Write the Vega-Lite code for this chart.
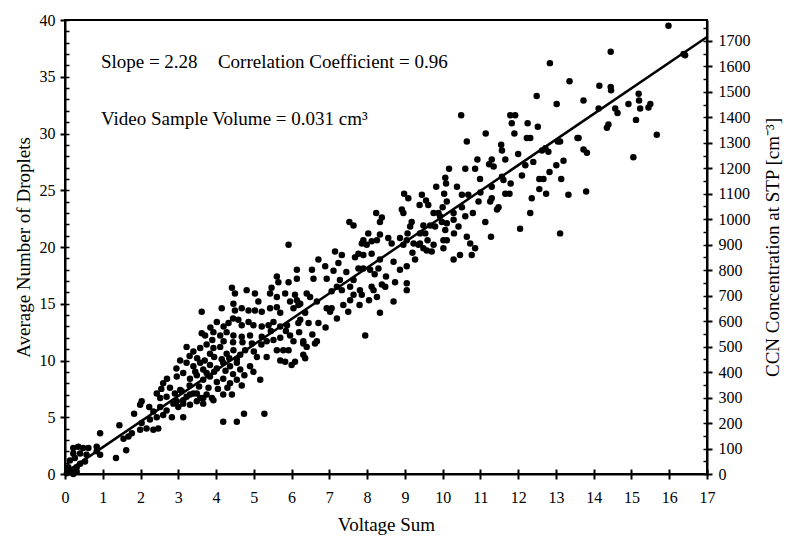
{
  "$schema": "https://vega.github.io/schema/vega-lite/v6.json",
  "width": 642,
  "height": 454,
  "autosize": "none",
  "padding": {"left": 65, "top": 20, "right": 85, "bottom": 66},
  "background": "white",
  "config": {
    "view": {"stroke": "black", "strokeWidth": 2},
    "font": "Liberation Serif",
    "axis": {"grid": false, "domainColor": "black", "domainWidth": 2, "tickColor": "black", "tickWidth": 2, "labelColor": "black", "titleColor": "black", "labelFont": "Liberation Serif", "titleFont": "Liberation Serif", "labelFontSize": 16, "titleFontSize": 19, "titleFontWeight": "normal"}
  },
  "datasets": {
    "pts": [
      {"v":15.98,"d":39.5},{"v":14.45,"d":37.2},{"v":13.36,"d":34.6},{"v":14.15,"d":34.2},{"v":14.45,"d":34.1},{"v":14.46,"d":33.8},{"v":13.73,"d":32.9},{"v":15.19,"d":33.5},{"v":15.2,"d":32.9},{"v":14.92,"d":32.6},{"v":15.23,"d":32.2},{"v":15.45,"d":32.3},{"v":15.5,"d":32.6},{"v":14.13,"d":32.2},{"v":14.57,"d":32.2},{"v":14.63,"d":31.8},{"v":16.42,"d":36.9},{"v":16.38,"d":37.0},{"v":15.12,"d":31.2},{"v":14.39,"d":30.8},{"v":14.35,"d":30.5},{"v":15.67,"d":29.9},{"v":13.6,"d":29.6},{"v":13.73,"d":28.6},{"v":13.82,"d":28.3},{"v":15.05,"d":27.9},{"v":13.11,"d":29.3},{"v":13.2,"d":27.6},{"v":13.14,"d":26.0},{"v":13.33,"d":24.6},{"v":13.8,"d":24.9},{"v":13.11,"d":21.2},
      {"v":12.84,"d":36.2},{"v":12.49,"d":33.3},{"v":13.02,"d":32.6},{"v":10.49,"d":31.6},{"v":11.79,"d":31.6},{"v":11.92,"d":31.6},{"v":11.83,"d":30.9},{"v":12.25,"d":30.9},{"v":12.52,"d":30.6},{"v":11.14,"d":30.0},{"v":11.9,"d":30.0},{"v":12.23,"d":29.6},{"v":12.32,"d":29.6},{"v":13.57,"d":29.6},{"v":10.64,"d":29.3},{"v":11.55,"d":29.0},{"v":11.57,"d":28.5},{"v":13.05,"d":29.3},{"v":12.72,"d":28.7},{"v":12.8,"d":28.4},{"v":12.63,"d":28.5},{"v":10.92,"d":27.7},{"v":10.86,"d":26.9},{"v":10.6,"d":26.9},{"v":10.17,"d":26.9},{"v":11.3,"d":27.7},{"v":11.35,"d":27.1},{"v":11.23,"d":27.3},{"v":11.66,"d":27.7},{"v":13.01,"d":27.2},{"v":12.19,"d":27.2},{"v":12.83,"d":26.6},{"v":10.07,"d":26.1},{"v":10.09,"d":25.6},{"v":10.99,"d":26.0},{"v":11.57,"d":26.2},{"v":11.61,"d":25.9},{"v":12.56,"d":26.0},{"v":12.67,"d":26.0},{"v":9.83,"d":25.3},{"v":10.38,"d":25.3},{"v":11.3,"d":25.3},{"v":12.56,"d":25.1},{"v":12.74,"d":24.7},{"v":9.45,"d":24.6},{"v":9.56,"d":24.1},{"v":9.62,"d":23.7},{"v":10.04,"d":24.7},{"v":10.51,"d":24.6},{"v":10.68,"d":24.6},{"v":11.66,"d":24.7},{"v":11.77,"d":24.7},{"v":12.36,"d":24.3},{"v":10.11,"d":24.0},{"v":10.95,"d":24.0},{"v":11.26,"d":24.0},{"v":11.3,"d":24.3},{"v":10.51,"d":23.5},{"v":11.48,"d":23.5},{"v":11.44,"d":23.3},{"v":9.76,"d":23.0},{"v":9.89,"d":23.0},{"v":10.29,"d":23.0},{"v":12.32,"d":23.0},{"v":10.6,"d":22.7},{"v":9.49,"d":21.9},{"v":9.67,"d":21.9},{"v":9.8,"d":21.8},{"v":9.98,"d":22.2},{"v":10.11,"d":22.1},{"v":10.42,"d":21.8},{"v":11.13,"d":22.2},{"v":12.05,"d":21.6},{"v":9.4,"d":21.2},{"v":9.54,"d":21.2},{"v":10.07,"d":21.5},{"v":10.64,"d":20.9},{"v":11.28,"d":20.9},{"v":10.02,"d":20.6},{"v":10.11,"d":20.6},{"v":9.4,"d":20.3},{"v":9.58,"d":19.7},{"v":9.71,"d":19.6},{"v":9.76,"d":20.2},{"v":10.73,"d":20.3},{"v":10.86,"d":19.9},{"v":10.02,"d":19.9},{"v":10.29,"d":18.9},{"v":10.46,"d":19.3},{"v":10.77,"d":19.3},
      {"v":8.98,"d":24.7},{"v":9.09,"d":24.3},{"v":9.39,"d":23.7},{"v":8.92,"d":23.3},{"v":8.96,"d":23.0},{"v":8.24,"d":23.0},{"v":8.39,"d":22.6},{"v":8.34,"d":22.2},{"v":7.53,"d":22.2},{"v":7.64,"d":21.9},{"v":9.18,"d":22.2},{"v":9.14,"d":21.8},{"v":9.07,"d":21.2},{"v":9.93,"d":22.7},{"v":10.29,"d":22.4},{"v":8.03,"d":21.2},{"v":7.9,"d":20.6},{"v":7.86,"d":20.3},{"v":7.99,"d":20.2},{"v":8.12,"d":20.5},{"v":8.26,"d":20.6},{"v":8.34,"d":21.1},{"v":8.56,"d":20.8},{"v":8.65,"d":20.3},{"v":8.87,"d":20.8},{"v":9.05,"d":20.6},{"v":8.96,"d":20.2},{"v":9.23,"d":20.3},{"v":9.36,"d":20.2},{"v":9.49,"d":19.9},
      {"v":7.15,"d":19.6},{"v":7.33,"d":19.3},{"v":7.77,"d":19.4},{"v":7.68,"d":19.1},{"v":7.9,"d":19.3},{"v":8.12,"d":19.4},{"v":6.71,"d":18.9},{"v":6.89,"d":18.3},{"v":7.24,"d":18.6},{"v":6.54,"d":18.0},{"v":6.58,"d":17.2},{"v":6.93,"d":17.2},{"v":7.28,"d":17.1},{"v":7.64,"d":17.1},{"v":7.77,"d":18.1},{"v":7.9,"d":18.1},{"v":8.08,"d":18.0},{"v":8.34,"d":18.9},{"v":8.3,"d":18.1},{"v":8.7,"d":18.7},{"v":8.87,"d":18.0},{"v":9.05,"d":18.3},{"v":9.27,"d":18.9},{"v":7.2,"d":16.5},{"v":7.33,"d":16.2},{"v":7.55,"d":16.5},{"v":7.81,"d":16.2},{"v":7.86,"d":15.8},{"v":8.12,"d":16.5},{"v":8.17,"d":16.2},{"v":8.39,"d":16.7},{"v":8.48,"d":16.5},{"v":8.74,"d":16.9},{"v":9.05,"d":16.8},{"v":9.05,"d":16.2},{"v":6.4,"d":15.9},{"v":6.49,"d":15.6},{"v":6.23,"d":15.0},{"v":7.06,"d":16.1},{"v":7.06,"d":14.6},{"v":7.02,"d":14.3},{"v":7.37,"d":14.9},{"v":7.64,"d":15.8},{"v":7.55,"d":15.3},{"v":8.26,"d":15.6},{"v":8.7,"d":15.2},{"v":8.34,"d":14.2},{"v":6.36,"d":14.2},{"v":6.23,"d":13.6},{"v":6.45,"d":13.3},{"v":6.71,"d":13.3},{"v":7.95,"d":12.2},{"v":6.31,"d":11.5},{"v":6.62,"d":11.5},
      {"v":7.11,"d":17.9},{"v":6.14,"d":18.0},{"v":6.14,"d":17.2},{"v":5.92,"d":20.2},{"v":5.61,"d":17.4},{"v":5.65,"d":16.9},{"v":5.92,"d":16.9},{"v":4.42,"d":16.4},{"v":4.5,"d":15.9},{"v":4.81,"d":16.2},{"v":5.03,"d":15.9},{"v":5.12,"d":15.2},{"v":5.47,"d":16.4},{"v":5.43,"d":15.9},{"v":5.61,"d":15.6},{"v":5.83,"d":15.9},{"v":6.09,"d":15.8},{"v":6.67,"d":15.2},{"v":5.96,"d":15.2},{"v":6.14,"d":15.3},{"v":6.18,"d":14.9},{"v":6.05,"d":14.6},{"v":4.15,"d":14.6},{"v":3.62,"d":14.3},{"v":4.46,"d":15.0},{"v":4.5,"d":14.4},{"v":4.68,"d":14.6},{"v":4.86,"d":14.4},{"v":5.03,"d":14.4},{"v":5.21,"d":14.3},{"v":5.43,"d":14.6},{"v":5.61,"d":14.7},{"v":5.7,"d":14.2},{"v":6.93,"d":14.6},
      {"v":4.02,"d":13.4},{"v":4.33,"d":13.3},{"v":4.59,"d":13.6},{"v":4.68,"d":13.1},{"v":4.86,"d":13.4},{"v":4.99,"d":13.1},{"v":5.21,"d":13.0},{"v":5.39,"d":13.1},{"v":5.52,"d":13.4},{"v":5.7,"d":13.0},{"v":5.88,"d":13.1},{"v":6.18,"d":13.3},
      {"v":3.62,"d":12.4},{"v":3.71,"d":12.2},{"v":3.93,"d":12.5},{"v":4.11,"d":12.2},{"v":4.28,"d":12.5},{"v":4.46,"d":12.2},{"v":4.68,"d":12.1},{"v":4.9,"d":12.2},{"v":5.21,"d":12.1},{"v":5.34,"d":11.7},{"v":5.52,"d":11.8},{"v":5.7,"d":12.0},{"v":5.96,"d":12.2},{"v":6.05,"d":11.7},{"v":6.31,"d":11.7},{"v":6.4,"d":11.2},{"v":6.67,"d":11.7},{"v":6.31,"d":10.5},{"v":6.36,"d":10.2},{"v":5.61,"d":10.9},{"v":5.78,"d":10.9},{"v":5.92,"d":10.9},{"v":5.7,"d":10.0},{"v":5.83,"d":9.9},{"v":6.0,"d":9.6},{"v":6.09,"d":9.9},
      {"v":3.22,"d":11.2},{"v":3.4,"d":10.8},{"v":3.58,"d":11.1},{"v":3.75,"d":11.4},{"v":3.84,"d":10.6},{"v":3.93,"d":11.1},{"v":4.11,"d":11.2},{"v":4.28,"d":10.6},{"v":4.46,"d":10.9},{"v":4.64,"d":10.5},{"v":4.77,"d":10.9},{"v":5.08,"d":10.3},{"v":5.34,"d":10.3},
      {"v":3.05,"d":10.0},{"v":3.22,"d":9.8},{"v":3.4,"d":9.5},{"v":3.58,"d":9.8},{"v":3.66,"d":9.2},{"v":3.84,"d":9.6},{"v":4.02,"d":9.3},{"v":4.19,"d":9.8},{"v":4.37,"d":9.5},{"v":4.55,"d":9.8},{"v":4.64,"d":9.2},{"v":4.9,"d":9.5},{"v":4.99,"d":9.0},{"v":5.17,"d":8.3},
      {"v":2.96,"d":8.6},{"v":3.13,"d":8.9},{"v":3.31,"d":8.4},{"v":3.49,"d":8.7},{"v":3.66,"d":8.3},{"v":3.84,"d":8.6},{"v":4.02,"d":8.1},{"v":4.19,"d":8.4},{"v":4.37,"d":8.0},{"v":4.55,"d":8.3},{"v":4.68,"d":7.8},
      {"v":2.78,"d":7.6},{"v":2.91,"d":7.1},{"v":3.09,"d":7.3},{"v":3.22,"d":6.8},{"v":3.4,"d":7.1},{"v":3.58,"d":6.7},{"v":3.75,"d":7.0},{"v":3.93,"d":6.5},{"v":4.19,"d":7.0},{"v":4.42,"d":7.0},
      {"v":2.87,"d":6.2},{"v":3.0,"d":5.9},{"v":3.13,"d":6.2},{"v":3.31,"d":6.1},{"v":3.49,"d":6.4},{"v":3.66,"d":6.2},{"v":3.13,"d":5.0},{"v":4.19,"d":4.6},{"v":4.55,"d":4.6},{"v":4.74,"d":5.3},{"v":5.28,"d":5.3},
      {"v":2.6,"d":8.0},{"v":2.43,"d":7.1},{"v":2.52,"d":6.7},{"v":2.69,"d":6.8},{"v":3.05,"d":7.4},{"v":2.96,"d":6.4},{"v":3.13,"d":6.5},{"v":3.31,"d":7.0},{"v":3.49,"d":7.1},{"v":3.66,"d":6.7},{"v":3.89,"d":6.7},{"v":2.03,"d":6.4},{"v":1.99,"d":6.1},{"v":2.23,"d":5.9},{"v":2.34,"d":5.5},{"v":2.52,"d":5.9},{"v":2.69,"d":5.6},{"v":2.83,"d":5.0},{"v":2.25,"d":4.8},{"v":2.43,"d":5.0},{"v":2.6,"d":5.2},{"v":1.83,"d":5.3},{"v":2.03,"d":4.5},{"v":2.16,"d":4.0},{"v":2.34,"d":3.9},{"v":2.47,"d":4.0},{"v":1.99,"d":3.9},{"v":1.44,"d":4.3},{"v":0.93,"d":3.6},{"v":1.77,"d":3.6},{"v":1.68,"d":3.3},{"v":1.55,"d":3.1},{"v":1.62,"d":2.1},{"v":1.35,"d":1.4},
      {"v":0.22,"d":2.3},{"v":0.35,"d":2.4},{"v":0.48,"d":2.3},{"v":0.62,"d":2.3},{"v":0.84,"d":2.4},{"v":0.22,"d":1.8},{"v":0.4,"d":1.8},{"v":0.57,"d":1.7},{"v":0.84,"d":2.0},{"v":0.93,"d":1.7},{"v":0.13,"d":1.2},{"v":0.26,"d":1.4},{"v":0.4,"d":0.9},{"v":0.53,"d":1.1},{"v":0.31,"d":0.6},{"v":0.09,"d":0.6},{"v":0.18,"d":0.2},{"v":0.05,"d":0.06},{"v":0.31,"d":0.2},{"v":0.22,"d":0.0},
      {"v":3.5,"d":10.2},{"v":3.7,"d":10.0},{"v":3.95,"d":10.3},{"v":4.15,"d":10.1},{"v":4.35,"d":10.2},{"v":4.55,"d":10.1},{"v":3.45,"d":9.0},{"v":3.75,"d":8.9},{"v":3.95,"d":9.0},{"v":4.25,"d":9.1},{"v":4.45,"d":8.8},{"v":4.75,"d":8.7},{"v":3.3,"d":7.8},{"v":3.55,"d":7.7},{"v":3.8,"d":7.6},{"v":4.05,"d":7.5},{"v":4.3,"d":7.6},{"v":3.85,"d":12.9},{"v":4.2,"d":13.0},{"v":4.45,"d":13.7},{"v":4.2,"d":11.7},{"v":4.45,"d":11.6},{"v":4.7,"d":11.6},{"v":4.95,"d":11.5},{"v":3.9,"d":11.8},{"v":5.0,"d":10.8},{"v":5.2,"d":11.4},{"v":3.3,"d":10.4},{"v":2.95,"d":9.3},{"v":2.7,"d":8.4},{"v":2.55,"d":7.5},{"v":5.45,"d":12.6},{"v":5.85,"d":12.6},{"v":6.2,"d":12.5},{"v":6.55,"d":12.3},{"v":6.9,"d":12.9},{"v":7.2,"d":13.7},{"v":7.5,"d":14.3},{"v":7.8,"d":14.9},{"v":8.05,"d":15.3},{"v":8.5,"d":17.4},{"v":8.2,"d":17.6},{"v":7.45,"d":17.8},{"v":9.6,"d":20.6},{"v":9.2,"d":19.5},{"v":10.3,"d":21.2},{"v":10.0,"d":23.5},{"v":10.8,"d":23.0},{"v":11.0,"d":24.8},{"v":11.8,"d":25.6},{"v":12.1,"d":26.3},{"v":12.4,"d":27.5},{"v":12.0,"d":28.2}
    ],
    "fit": [{"v": 0, "d": 0.1}, {"v": 17, "d": 38.5}],
    "notes": [
      {"v": 0.95, "d": 36.3, "label": "Slope = 2.28"},
      {"v": 4.05, "d": 36.3, "label": "Correlation Coefficient = 0.96"},
      {"v": 0.95, "d": 31.3, "label": "Video Sample Volume = 0.031 cm³"}
    ],
    "ccn": [{"c": 0}, {"c": 1700}]
  },
  "layer": [
    {
      "data": {"name": "pts"},
      "mark": {"type": "circle", "size": 42, "color": "black", "opacity": 1},
      "encoding": {
        "x": {"field": "v", "type": "quantitative", "scale": {"domain": [0, 17], "nice": false, "zero": false},
              "axis": {"orient": "bottom", "title": "Voltage Sum", "values": [0,1,2,3,4,5,6,7,8,9,10,11,12,13,14,15,16,17], "tickSize": 5, "labelPadding": 10, "titlePadding": 10, "labelFlush": false}},
        "y": {"field": "d", "type": "quantitative", "scale": {"domain": [0, 40], "nice": false},
              "axis": {"orient": "left", "title": "Average Number of Droplets", "values": [0,5,10,15,20,25,30,35,40], "tickSize": 5, "labelPadding": 5, "titlePadding": 6, "labelFlush": false}}
      }
    },
    {
      "data": {"name": "fit"},
      "mark": {"type": "line", "color": "black", "strokeWidth": 2.5},
      "encoding": {
        "x": {"field": "v", "type": "quantitative", "scale": {"domain": [0, 17], "nice": false, "zero": false},
              "axis": {"orient": "bottom", "title": null, "labels": false, "domain": false, "tickSize": -5, "values": [0,1,2,3,4,5,6,7,8,9,10,11,12,13,14,15,16,17]}},
        "y": {"field": "d", "type": "quantitative", "scale": {"domain": [0, 40], "nice": false},
              "axis": {"orient": "left", "title": null, "labels": false, "domain": false, "tickSize": -4, "tickWidth": 1.5, "values": [0,1,2,3,4,5,6,7,8,9,10,11,12,13,14,15,16,17,18,19,20,21,22,23,24,25,26,27,28,29,30,31,32,33,34,35,36,37,38,39,40]}}
      }
    },
    {
      "data": {"name": "notes"},
      "mark": {"type": "text", "align": "left", "baseline": "middle", "font": "Liberation Serif", "fontSize": 19, "color": "black"},
      "encoding": {
        "x": {"field": "v", "type": "quantitative", "scale": {"domain": [0, 17], "nice": false, "zero": false}, "axis": null},
        "y": {"field": "d", "type": "quantitative", "scale": {"domain": [0, 40], "nice": false}, "axis": null},
        "text": {"field": "label"}
      }
    },
    {
      "data": {"name": "ccn"},
      "mark": {"type": "point", "opacity": 0},
      "encoding": {
        "y": {"field": "c", "type": "quantitative", "scale": {"domain": [0, 1782], "nice": false},
              "axis": {"orient": "right", "title": "CCN Concentration at STP [cm⁻³]", "titleAngle": 270, "format": "d", "values": [0,100,200,300,400,500,600,700,800,900,1000,1100,1200,1300,1400,1500,1600,1700], "tickSize": 5, "labelPadding": 6, "titlePadding": 32, "labelFlush": false}}
      }
    },
    {
      "data": {"name": "ccn"},
      "mark": {"type": "point", "opacity": 0},
      "encoding": {
        "y": {"field": "c", "type": "quantitative", "scale": {"domain": [0, 1782], "nice": false},
              "axis": {"orient": "right", "title": null, "labels": false, "domain": false, "tickSize": -4, "tickWidth": 1.5, "values": [0,50,100,150,200,250,300,350,400,450,500,550,600,650,700,750,800,850,900,950,1000,1050,1100,1150,1200,1250,1300,1350,1400,1450,1500,1550,1600,1650,1700,1750]}}
      }
    }
  ],
  "resolve": {"scale": {"y": "independent"}, "axis": {"x": "independent", "y": "independent"}}
}
